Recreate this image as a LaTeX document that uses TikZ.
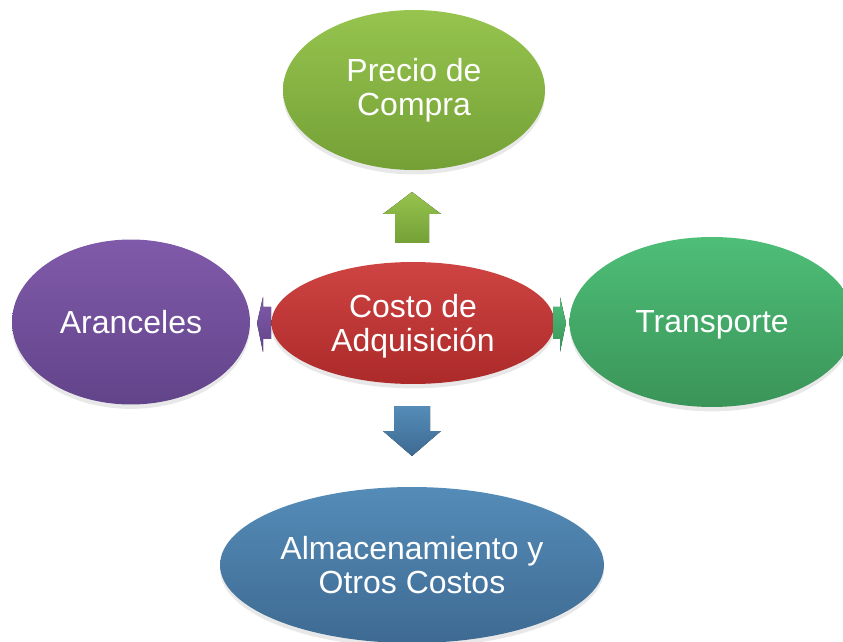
\documentclass[tikz,border=0pt]{standalone}
\usepackage{fontspec}
\setmainfont{Liberation Sans}
\usetikzlibrary{shapes.geometric,shadows}

\definecolor{verdeA}{RGB}{150,196,78}
\definecolor{verdeB}{RGB}{116,160,54}
\definecolor{rojoA}{RGB}{206,68,66}
\definecolor{rojoB}{RGB}{172,42,42}
\definecolor{moradoA}{RGB}{128,90,170}
\definecolor{moradoB}{RGB}{98,68,138}
\definecolor{menteA}{RGB}{78,190,120}
\definecolor{menteB}{RGB}{58,148,88}
\definecolor{azulA}{RGB}{84,140,184}
\definecolor{azulB}{RGB}{62,106,146}

\tikzset{
  burbuja/.style={ellipse, inner sep=0pt, align=center, text=white,
    font=\fontsize{18.2}{19.5}\selectfont,
    drop shadow={opacity=0.18, shadow xshift=0pt, shadow yshift=-2.5pt}},
  flecha/.style={draw=none}
}

\begin{document}
\begin{tikzpicture}[x=0.02cm,y=-0.02cm]
  \useasboundingbox (0,0) rectangle (843,642);
  \clip (0,0) rectangle (843,642);

  % Ellipses
  \node[burbuja, top color=verdeA, bottom color=verdeB,
    minimum width=5.24cm, minimum height=3.2cm] (precio) at (414,90) {Precio de\\Compra};
  \node[burbuja, top color=moradoA, bottom color=moradoB,
    minimum width=4.76cm, minimum height=3.3cm] (aranceles) at (131,322) {Aranceles};
  \node[burbuja, top color=menteA, bottom color=menteB, text depth=0pt,
    minimum width=5.7cm, minimum height=3.4cm] (transporte) at (712,322) {Transporte};
  \node[burbuja, top color=azulA, bottom color=azulB,
    minimum width=7.68cm, minimum height=3.12cm] (almacen) at (412,565) {Almacenamiento y\\Otros Costos};
  \node[burbuja, top color=rojoA, bottom color=rojoB, text depth=0pt,
    minimum width=5.66cm, minimum height=2.44cm] (centro) at (413,323) {Costo de\\Adquisición};

  % Up arrow
  \fill[top color=verdeA, bottom color=verdeB, flecha]
    (412,192) -- (441,214) -- (429,214) -- (429,243) -- (395,243) -- (395,214) -- (383,214) -- cycle;
  % Down arrow
  \fill[top color=azulA, bottom color=azulB, flecha]
    (394,406) -- (430,406) -- (430,431) -- (441,431) -- (412,456) -- (383,431) -- (394,431) -- cycle;
  % Left arrow
  \fill[top color=moradoA, bottom color=moradoB, flecha]
    (257,323) -- (263,297) -- (263,307) -- (271,307) -- (271,339) -- (263,339) -- (263,352) -- cycle;
  % Right arrow
  \fill[top color=menteA, bottom color=menteB, flecha]
    (566,323) -- (560,297) -- (560,307) -- (553,307) -- (553,339) -- (560,339) -- (560,352) -- cycle;
\end{tikzpicture}
\end{document}
